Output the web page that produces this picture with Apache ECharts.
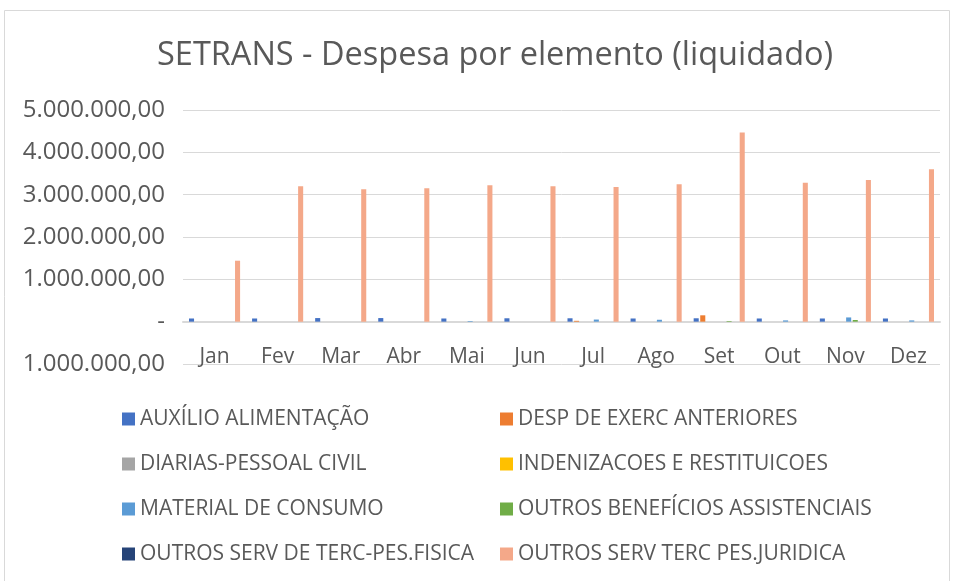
<!DOCTYPE html>
<html>
<head>
<meta charset="utf-8">
<script src="https://cdn.jsdelivr.net/npm/echarts@6/dist/echarts.min.js"></script>
<style>
  html, body { margin: 0; padding: 0; background: #fff; }
  #chart { width: 955px; height: 581px; }
</style>
</head>
<body>
<div id="chart"></div>
<script>
// months and series values
const months = ['Jan', 'Fev', 'Mar', 'Abr', 'Mai', 'Jun', 'Jul', 'Ago', 'Set', 'Out', 'Nov', 'Dez']

const auxilioAlimentacao = [75000, 75000, 85000, 85000, 75000, 80000, 80000, 75000, 80000, 75000, 75000, 75000]
const despExercAnteriores = [0, 0, 0, 0, 0, 0, 20000, 0, 150000, 0, 0, 0]
const diariasPessoalCivil = [0, 0, 0, 0, 0, 0, 0, 0, 0, 0, 0, 0]
const indenizacoes = [0, 0, 0, 0, 0, 0, 0, 0, 0, 0, 0, 0]
const materialConsumo = [0, 0, 0, 0, 15000, 0, 50000, 45000, 0, 30000, 100000, 30000]
const outrosBeneficios = [0, 0, 0, 0, 0, 0, 0, 0, 15000, 0, 40000, 0]
const servPesFisica = [0, 0, 0, 0, 0, 0, 0, 0, 0, 0, 0, 0]
const servPesJuridica = [1440000, 3200000, 3130000, 3150000, 3220000, 3200000, 3180000, 3245000, 4470000, 3280000, 3345000, 3600000]

const seriesNames = [
    'AUXÍLIO ALIMENTAÇÃO',
    'DESP DE EXERC ANTERIORES',
    'DIARIAS-PESSOAL CIVIL',
    'INDENIZACOES E RESTITUICOES',
    'MATERIAL DE CONSUMO',
    'OUTROS BENEFÍCIOS ASSISTENCIAIS',
    'OUTROS SERV DE TERC-PES.FISICA',
    'OUTROS SERV TERC PES.JURIDICA'
]
const seriesData = [auxilioAlimentacao, despExercAnteriores, diariasPessoalCivil, indenizacoes,
    materialConsumo, outrosBeneficios, servPesFisica, servPesJuridica]
const colors = ['#4472C4', '#ED7D31', '#A5A5A5', '#FFC000', '#5B9BD5', '#70AD47', '#264478', '#F4A889']

const textColor = '#595959'
const font = '"Open Sans", "Noto Sans", sans-serif'

function fmt(v) {
    if (v === 0) return '-'
    let n = Math.abs(v)
    let s = String(Math.round(n)).replace(/\B(?=(\d{3})+(?!\d))/g, '.')
    return s + ',00'
}

let chart = echarts.init(document.getElementById('chart'))

let legendText = {color: textColor, fontFamily: font, fontSize: 21, lineHeight: 22}

chart.setOption({
    animation: false,
    color: colors,
    title: {
        text: 'SETRANS - Despesa por elemento (liquidado)',
        left: 152,
        top: 34,
        textStyle: {
            color: textColor,
            fontFamily: font,
            fontWeight: 'normal',
            fontSize: 32.5
        }
    },
    graphic: [{
        type: 'rect',
        shape: {x: 4.5, y: 10.5, width: 945, height: 580},
        style: {fill: 'none', stroke: '#d9d9d9', lineWidth: 1},
        silent: true
    }],
    grid: {
        left: 183,
        right: 15,
        top: 110,
        bottom: 217
    },
    legend: [
        {
            orient: 'vertical',
            left: 117,
            top: 403,
            itemWidth: 13,
            itemHeight: 13,
            itemGap: 23,
            icon: 'rect',
            data: [seriesNames[0], seriesNames[2], seriesNames[4], seriesNames[6]],
            textStyle: legendText
        },
        {
            orient: 'vertical',
            left: 495,
            top: 403,
            itemWidth: 13,
            itemHeight: 13,
            itemGap: 23,
            icon: 'rect',
            data: [seriesNames[1], seriesNames[3], seriesNames[5], seriesNames[7]],
            textStyle: legendText
        }
    ],
    xAxis: {
        type: 'category',
        data: months,
        axisLine: {onZero: true, lineStyle: {color: '#d9d9d9', width: 2}},
        axisTick: {show: false},
        axisLabel: {color: textColor, fontFamily: font, fontSize: 21, margin: -17}
    },
    yAxis: {
        type: 'value',
        min: -1000000,
        max: 5000000,
        interval: 1000000,
        axisLine: {show: false},
        axisTick: {show: false},
        splitLine: {lineStyle: {color: '#d9d9d9', width: 1}},
        axisLabel: {
            color: textColor,
            fontFamily: font,
            fontSize: 24,
            margin: 18,
            formatter: fmt
        }
    },
    series: seriesNames.map((name, i) => ({
        name: name,
        type: 'bar',
        data: seriesData[i],
        barGap: '30%',
        barCategoryGap: '19%'
    }))
})
</script>
</body>
</html>
